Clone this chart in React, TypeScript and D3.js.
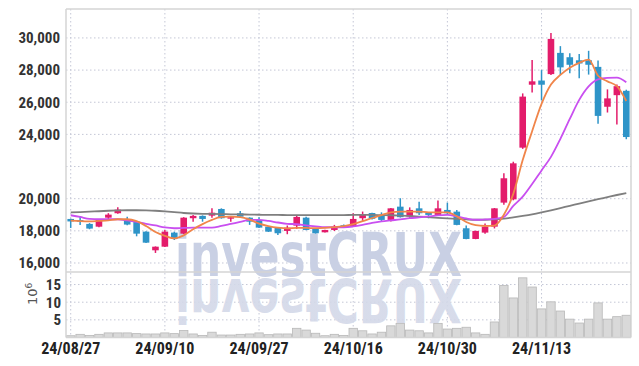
import React from "react";
import * as d3 from "d3";

const dates = [
  "24/08/27","24/08/28","24/08/29","24/08/30","24/09/02","24/09/03","24/09/04","24/09/05","24/09/06","24/09/09",
  "24/09/10","24/09/11","24/09/12","24/09/13","24/09/19","24/09/20","24/09/23","24/09/24","24/09/25","24/09/26",
  "24/09/27","24/09/30","24/10/02","24/10/04","24/10/07","24/10/08","24/10/10","24/10/11","24/10/14","24/10/15",
  "24/10/16","24/10/17","24/10/18","24/10/21","24/10/22","24/10/23","24/10/24","24/10/25","24/10/28","24/10/29",
  "24/10/30","24/10/31","24/11/01","24/11/04","24/11/05","24/11/06","24/11/07","24/11/08","24/11/11","24/11/12",
  "24/11/13","24/11/14","24/11/15","24/11/18","24/11/19","24/11/20","24/11/21","24/11/22","24/11/25","24/11/26",
];

const opens = [
  18740,18670,18430,18260,18820,19095,18680,18570,17950,16790,
  17015,17890,17825,18785,18930,18945,19360,18800,19095,18820,
  18680,18260,18200,17995,18325,18820,18120,17910,18055,18350,
  18305,18785,19110,18930,18680,19505,18885,19400,19130,18990,
  19300,19195,18160,17495,17890,18260,19755,19960,23175,27090,
  27350,27750,29070,28800,28610,28610,28200,25720,26440,26710,
];
const highs = [
  18760,18930,18480,18700,19100,19470,18880,18600,17970,17030,
  18055,17950,18850,18990,18960,19400,19400,18870,19240,18840,
  18840,18280,18220,18330,18990,18880,18140,18070,18370,18400,
  19095,19200,19130,19150,19420,20030,19460,19815,19150,19880,
  19755,19300,18330,18010,18450,19420,21590,22300,26550,28620,
  28000,30310,29490,29050,29000,29200,28600,26800,27100,26780,
];
const lows = [
  18180,18370,18100,18220,18680,19060,18350,17660,17250,16625,
  16990,17430,17800,18570,18570,18820,18760,18570,18860,18370,
  18180,17930,17745,17790,18120,18030,17830,17890,17990,18230,
  18240,18620,18700,18600,18580,18830,18800,18980,18780,18960,
  19050,18350,17480,17480,17820,18150,19620,19900,23100,26600,
  26110,27700,27700,27800,27500,27720,24660,25360,24620,23700,
];
const closes = [
  18585,18570,18140,18680,19010,19320,18390,17825,17265,17015,
  17950,17515,18820,18930,18740,19130,18785,18850,18880,18570,
  18200,17950,17850,18200,18865,18055,17850,18055,18260,18290,
  18740,18990,18750,18680,19400,18850,19300,19095,18990,19400,
  19095,18370,17495,17995,18260,19400,21270,22200,26350,27300,
  27090,29940,28170,28330,28410,28330,25150,26240,27000,23835,
];
// volume, millions of shares
const volumes = [
  0.5,0.9,0.6,0.9,1.3,1.3,1.3,1.1,1.0,1.0,
  1.3,1.1,2.0,1.0,0.6,1.5,0.7,0.7,0.9,1.0,
  1.3,0.8,1.0,1.0,2.6,2.1,1.2,0.5,0.9,0.6,
  2.6,1.9,1.0,1.5,3.3,4.0,2.1,1.9,1.3,4.0,
  2.4,2.6,2.9,1.3,0.9,4.4,14.7,11.2,16.9,14.3,
  8.1,10.1,7.5,5.2,4.1,5.2,9.8,5.2,5.9,6.3,
];
const maShort = [
  18635,18600,18585,18615,18650,18720,18720,18600,18300,17930,
  17690,17530,17720,18100,18420,18680,18870,18880,18850,18700,
  18450,18300,18200,18150,18180,18180,18170,18190,18230,18300,
  18420,18600,18800,18980,19150,19200,19200,19200,19150,19150,
  19150,18900,18550,18350,18300,18330,19000,20300,22400,24200,
  25900,27100,27700,28150,28450,28650,27650,27300,27000,26080,
];
const maMid = [
  18970,18865,18740,18720,18720,18720,18650,18555,18440,18335,
  18210,18160,18180,18200,18200,18200,18305,18430,18555,18680,
  18680,18615,18520,18440,18410,18335,18275,18225,18225,18225,
  18275,18370,18490,18585,18650,18710,18785,18835,18895,18960,
  18990,18895,18770,18690,18710,18740,18865,19550,20130,20920,
  21760,22600,23720,24960,26145,26985,27420,27510,27530,27245,
];
const maLong = [
  19150,19170,19200,19220,19250,19270,19280,19280,19270,19250,
  19210,19160,19110,19080,19060,19050,19040,19030,19020,19010,
  19000,18990,18990,18980,18980,18980,18980,18980,18980,18980,
  18990,18990,18990,18980,18970,18950,18920,18890,18850,18810,
  18780,18740,18710,18690,18690,18710,18760,18840,18930,19030,
  19150,19280,19420,19560,19700,19840,19970,20100,20230,20350,
];

const priceGridTicks = [16000, 18000, 20000, 22000, 24000, 26000, 28000, 30000];
const priceLabelTicks = [16000, 18000, 20000, 24000, 26000, 28000, 30000];
const volumeTicks = [5, 10, 15];
const dateTicks = ["24/08/27", "24/09/10", "24/09/27", "24/10/16", "24/10/30", "24/11/13"];

const W = 639, H = 366;
const L = 66, R = 631, TOP = 9, MID = 272, BOT = 337.5;
const UP = "#e31c6b", DOWN = "#2e94c8";
const FONT = "'Liberation Sans Narrow', 'Roboto Condensed', 'DejaVu Sans Condensed', sans-serif";
const WM_FONT = "'DejaVu Sans', 'Liberation Sans', sans-serif";

export default function App() {
  const x = d3.scaleBand<string>().domain(dates).range([L, R]).padding(0);
  const bw = x.bandwidth();
  const cx = (i: number) => (x(dates[i]) as number) + bw / 2;
  const y = d3.scaleLinear().domain([15440, 31800]).range([MID, TOP]);
  const yv = d3.scaleLinear().domain([0, 18.55]).range([BOT, MID]);
  const line = d3
    .line<number>()
    .x((_, i) => cx(i))
    .y((d) => y(d))
    .curve(d3.curveMonotoneX);
  const bodyW = 6.6;
  const fmt = d3.format(",");

  return (
    <svg
      width={W}
      height={H}
      style={{ position: "absolute", left: 0, top: 0, background: "#fff" }}
    >
      <defs>
        <linearGradient id="refl" gradientUnits="userSpaceOnUse" x1="0" y1="277" x2="0" y2="322">
          <stop offset="0" stopColor="#d3d8e8" stopOpacity="0.9" />
          <stop offset="1" stopColor="#d3d8e8" stopOpacity="0.2" />
        </linearGradient>
        <clipPath id="mainClip">
          <rect x={L} y={TOP} width={R - L} height={MID - TOP} />
        </clipPath>
      </defs>
      <rect x={0} y={0} width={W} height={H} fill="#fff" />

      {/* grid */}
      {priceGridTicks.map((t) => (
        <line key={"pg" + t} x1={L} x2={R} y1={y(t)} y2={y(t)} stroke="#c4c7d6" strokeDasharray="1.5,2.5" />
      ))}
      {volumeTicks.map((t) => (
        <line key={"vg" + t} x1={L} x2={R} y1={yv(t)} y2={yv(t)} stroke="#c4c7d6" strokeDasharray="1.5,2.5" />
      ))}
      {dateTicks.map((d) => (
        <line key={"xg" + d} x1={cx(dates.indexOf(d))} x2={cx(dates.indexOf(d))} y1={TOP} y2={BOT} stroke="#c4c7d6" strokeDasharray="1.5,2.5" />
      ))}

      {/* watermark */}
      <text x={175} y={276} fontFamily={WM_FONT} fontWeight="bold" fontSize={60}
        textLength={287} lengthAdjust="spacingAndGlyphs" fill="#c9d0e4">investCRUX</text>
      <text x={175} y={276} transform="translate(0,555) scale(1,-1)" fontFamily={WM_FONT}
        fontWeight="bold" fontSize={60} textLength={287} lengthAdjust="spacingAndGlyphs" fill="url(#refl)">investCRUX</text>

      {/* volume bars */}
      {volumes.map((v, i) => (
        <rect key={"v" + i} x={(x(dates[i]) as number) + 0.5} y={yv(v)} width={bw - 1} height={BOT - yv(v)}
          fill="#d9d9d9" stroke="#b8b8b8" strokeWidth={0.8} />
      ))}

      {/* frames */}
      <line x1={L} x2={R} y1={TOP} y2={TOP} stroke="#d4d4d4" strokeWidth={1.5} />
      <line x1={L} x2={L} y1={TOP} y2={BOT} stroke="#d4d4d4" strokeWidth={1.5} />
      <line x1={R} x2={R} y1={TOP} y2={BOT} stroke="#d4d4d4" strokeWidth={1.5} />
      <line x1={L} x2={R} y1={MID} y2={MID} stroke="#d4d4d4" strokeWidth={1.5} />
      <line x1={L} x2={R} y1={BOT} y2={BOT} stroke="#d4d4d4" strokeWidth={1.5} />

      <g clipPath="url(#mainClip)">
        {/* candles */}
        {dates.map((d, i) => {
          const up = closes[i] >= opens[i];
          const col = up ? UP : DOWN;
          const top = y(Math.max(opens[i], closes[i]));
          const bot = y(Math.min(opens[i], closes[i]));
          return (
            <g key={"c" + i}>
              <line x1={cx(i)} x2={cx(i)} y1={y(highs[i])} y2={y(lows[i])} stroke={col} strokeWidth={1.5} />
              <rect x={cx(i) - bodyW / 2} y={top} width={bodyW} height={Math.max(1.5, bot - top)} fill={col} />
            </g>
          );
        })}
        {/* moving averages */}
        <path d={line(maLong) as string} fill="none" stroke="#7f7f7f" strokeWidth={1.8} />
        <path d={line(maMid) as string} fill="none" stroke="#c94ff0" strokeWidth={1.8} />
        <path d={line(maShort) as string} fill="none" stroke="#f0854a" strokeWidth={1.8} />
      </g>

      {/* axes labels */}
      {priceLabelTicks.map((t) => (
        <text key={"pl" + t} x={60} y={y(t)} dy="0.36em" textAnchor="end" fontFamily={FONT} fontWeight="bold"
          fontSize={15} fill="#333">{fmt(t)}</text>
      ))}
      {volumeTicks.map((t) => (
        <text key={"vl" + t} x={61} y={yv(t)} dy="0.36em" textAnchor="end" fontFamily={FONT} fontWeight="bold"
          fontSize={15} fill="#333">{t}</text>
      ))}
      <text transform="translate(37,305) rotate(-90)" fontFamily="'DejaVu Sans', sans-serif" fontSize={13} fill="#555">
        10<tspan dy="-5" fontSize={9}>6</tspan>
      </text>
      {dateTicks.map((d) => (
        <text key={"xl" + d} x={cx(dates.indexOf(d))} y={354} textAnchor="middle" fontFamily={FONT} fontWeight="bold"
          fontSize={16} fill="#222">{d}</text>
      ))}
    </svg>
  );
}
